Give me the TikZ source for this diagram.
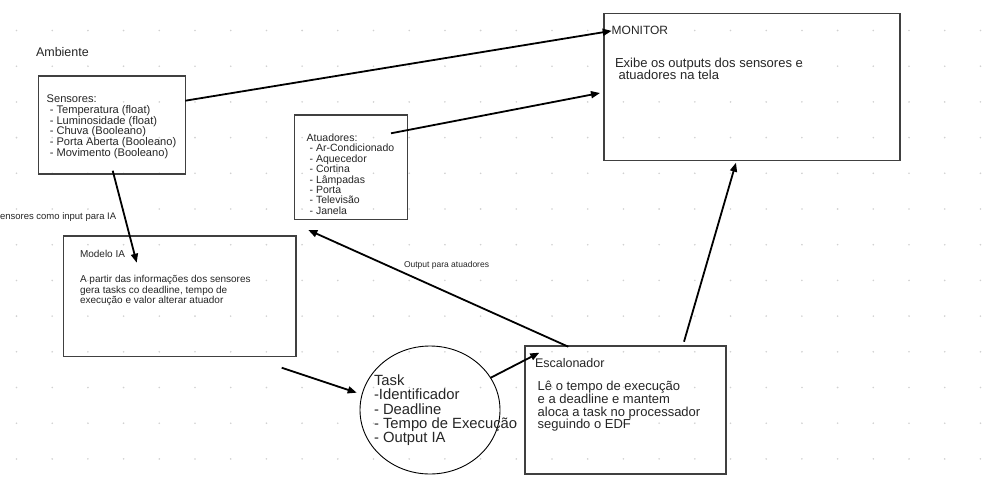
\documentclass[tikz,border=0pt]{standalone}
\usepackage{fontspec}
\setmainfont{Liberation Sans}
\usetikzlibrary{arrows.meta,shapes.geometric}
\tikzset{
  box/.style={draw=black!75, line width=1.1pt, inner sep=0pt, outer sep=0pt, anchor=north west},
  txt/.style={inner sep=0pt, outer sep=0pt, anchor=north west, align=left, text=black!85},
  conn/.style={draw=black, line width=1.8pt, -{Triangle[length=9pt,width=7pt]}},
  griddot/.style={fill=black!18},
}
\begin{document}
\begin{tikzpicture}[x=1pt,y=-1pt]
\useasboundingbox (0,0) rectangle (1007,493);
\fill[white] (0,0) rectangle (1007,493);
% background dot grid
\foreach \i in {0,...,27}{
  \foreach \j in {0,...,12}{
    \fill[griddot] (16.5+35.7*\i,30.5+35.7*\j) circle (0.9pt);
  }
}
% boxes
\node[box, minimum width=147pt, minimum height=98pt] (sens) at (38.3,76) {};
\node[box, minimum width=112.6pt, minimum height=104.3pt] (atu) at (294.7,115) {};
\node[box, minimum width=296pt, minimum height=147.4pt] (mon) at (604,13.3) {};
\node[box, minimum width=232.7pt, minimum height=120.7pt] (model) at (63.3,236) {};
\node[box, minimum width=201pt, minimum height=128pt] (esc) at (525,346) {};
\node[ellipse, draw=black, line width=0.9pt, minimum width=140pt, minimum height=128pt, inner sep=0pt, outer sep=0pt] (task) at (430,410) {};
% texts
\node[txt, font=\fontsize{12.5}{13}\selectfont] (amb) at (36,47.7) {Ambiente};
\node[txt, font=\fontsize{11.1}{10.7}\selectfont] (senstxt) at (46.7,95) {Sensores:\\\ - Temperatura (float)\\\ - Luminosidade (float)\\\ - Chuva (Booleano)\\\ - Porta Aberta (Booleano)\\\ - Movimento (Booleano)};
\node[txt, font=\fontsize{10.5}{10.4}\selectfont] (atutxt) at (306.7,133.8) {Atuadores:\\\ - Ar-Condicionado\\\ - Aquecedor\\\ - Cortina\\\ - Lâmpadas\\\ - Porta\\\ - Televisão\\\ - Janela};
\node[txt, font=\fontsize{12}{12}\selectfont] (montitle) at (611.7,26.6) {MONITOR};
\node[txt, font=\fontsize{13}{12.3}\selectfont] (montxt) at (615,57.9) {Exibe os outputs dos sensores e\\\ atuadores na tela};
\node[txt, font=\fontsize{10}{10.5}\selectfont] (modeltitle) at (80,250.6) {Modelo IA};
\node[txt, font=\fontsize{10}{10.5}\selectfont] (modeltxt) at (80,275.3) {A partir das informações dos sensores\\gera tasks co deadline, tempo de\\execução e valor alterar atuador};
\node[txt, font=\fontsize{14.8}{14.4}\selectfont] (tasktxt) at (374,374.5) {Task\\-Identificador\\- Deadline\\- Tempo de Execução\\- Output IA};
\node[txt, font=\fontsize{12.5}{12.5}\selectfont] (esctitle) at (535,358.7) {Escalonador};
\node[txt, font=\fontsize{13}{12.7}\selectfont] (esctxt) at (537.7,381.2) {Lê o tempo de execução\\e a deadline e mantem\\aloca a task no processador\\seguindo o EDF};
\node[txt, font=\fontsize{9.5}{10}\selectfont] (senslbl) at (0,212.2) {ensores como input para IA};
\node[txt, font=\fontsize{8.5}{9}\selectfont] (outlbl) at (404,261.2) {Output para atuadores};
% connectors
\draw[conn] ([yshift=-24.7pt]sens.north east) -- (montitle.west);
\draw[conn] ([xshift=-16.3pt,yshift=-18.3pt]atu.north east) -- ([xshift=-4pt,yshift=-79.7pt]mon.north west);
\draw[conn] ([xshift=74.4pt,yshift=3.3pt]sens.south west) -- ([xshift=73.4pt,yshift=-26.7pt]model.north west);
\draw[conn] ([xshift=-14.3pt,yshift=-11pt]model.south east) -- ([xshift=-3.3pt,yshift=17.3pt]task.west);
\draw[conn] (task.28) -- ([xshift=14.3pt,yshift=-6.7pt]esc.north west);
\draw[conn] ([xshift=43.3pt,yshift=-0.7pt]esc.north west) -- ([xshift=13.6pt,yshift=-10.7pt]atu.south west);
\draw[conn] ([xshift=159pt,yshift=4.3pt]esc.north west) -- ([xshift=132pt,yshift=-2pt]mon.south west);
\end{tikzpicture}
\end{document}
